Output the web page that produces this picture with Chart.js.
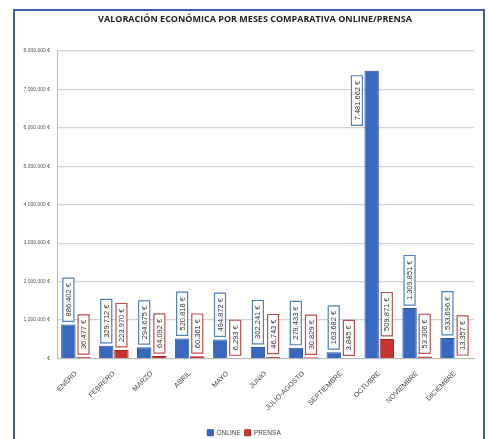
<!DOCTYPE html>
<html>
<head>
<meta charset="utf-8">
<script src="https://cdn.jsdelivr.net/npm/chart.js@4.4.1/dist/chart.umd.min.js"></script>
<style>
html,body{margin:0;padding:0;background:#fff;}
#wrap{position:relative;width:488px;height:439px;overflow:hidden;}
#frame{position:absolute;left:13px;top:9px;right:3px;bottom:-10px;border:2px solid #3b5ea6;pointer-events:none;}
canvas{position:absolute;left:0;top:0;}
</style>
</head>
<body>
<div id="wrap"><canvas id="c" width="488" height="439"></canvas><div id="frame"></div></div>
<script>
const categories = ["ENERO","FEBRERO","MARZO","ABRIL","MAYO","JUNIO","JULIO-AGOSTO","SEPTIEMBRE","OCTUBRE","NOVIEMBRE","DICIEMBRE"];
const online = [886402, 329712, 294675, 520818, 494872, 302241, 279433, 163682, 7481662, 1309851, 533696];
const prensa = [36477, 223970, 64092, 60361, 6293, 46743, 30829, 3845, 509871, 53306, 13357];
const yTicks = [0,1000000,2000000,3000000,4000000,5000000,6000000,7000000,8000000];
const seriesNames = ["ONLINE","PRENSA"];

function fmt(v){
  return v.toString().replace(/\B(?=(\d{3})+(?!\d))/g, ".") + " €";
}

const titleShift = {
  id: 'titleShift',
  afterLayout(chart){
    if (chart.titleBlock) { chart.titleBlock.left += 22; }
  }
};

const labelPlugin = {
  id: 'boxLabels',
  afterDatasetsDraw(chart){
    const ctx = chart.ctx;
    const area = chart.chartArea;
    ctx.save();
    ctx.font = '7.5px "Liberation Sans", Arial, sans-serif';
    chart.data.datasets.forEach((ds, di) => {
      const meta = chart.getDatasetMeta(di);
      const border = di === 0 ? '#4f81bd' : '#c0504d';
      meta.data.forEach((bar, i) => {
        const txt = fmt(ds.data[i]);
        const tw = ctx.measureText(txt).width;
        const h = tw + 10;
        const w = 11;
        let cx = bar.x;
        let yb = bar.y - 3;
        let yt = yb - h;
        if (yt < area.top) {
          cx = bar.x - bar.width/2 - w/2 - 2;
          yt = bar.y + 5;
          yb = yt + h;
        }
        ctx.fillStyle = '#ffffff';
        ctx.strokeStyle = border;
        ctx.lineWidth = 1.2;
        ctx.beginPath();
        ctx.rect(cx - w/2, yt, w, h);
        ctx.fill();
        ctx.stroke();
        ctx.save();
        ctx.translate(cx, yb - h/2);
        ctx.rotate(-Math.PI/2);
        ctx.fillStyle = '#333';
        ctx.textAlign = 'center';
        ctx.textBaseline = 'middle';
        ctx.fillText(txt, 0, 0.5);
        ctx.restore();
      });
    });
    ctx.restore();
  }
};

new Chart(document.getElementById('c'), {
  type: 'bar',
  data: {
    labels: categories,
    datasets: [
      {label: seriesNames[0], data: online, backgroundColor: '#3868c0', borderColor:'#2a55a3', borderWidth:1},
      {label: seriesNames[1], data: prensa, backgroundColor: '#c83530', borderColor:'#a82a26', borderWidth:1}
    ]
  },
  options: {
    responsive: false,
    animation: false,
    devicePixelRatio: 1,
    layout: {padding: {top: 4, left: 14, right: 14, bottom: -7}},
    datasets: {bar: {barPercentage: 0.95, categoryPercentage: 0.8}},
    plugins: {
      title: {
        display: true,
        text: 'VALORACIÓN ECONÓMICA POR MESES COMPARATIVA ONLINE/PRENSA',
        color: '#222',
        font: {family: '"Open Sans", sans-serif', size: 9, weight: 'bold'},
        padding: {top: 10, bottom: 26}
      },
      legend: {
        position: 'bottom',
        labels: {
          boxWidth: 6, boxHeight: 6, padding: 4,
          color: '#444',
          font: {family: '"Liberation Sans", sans-serif', size: 6.5}
        }
      },
      tooltip: {enabled: false}
    },
    scales: {
      x: {
        afterFit(scale){ scale.height = 67; },
        grid: {display: false},
        border: {color: '#bbb'},
        ticks: {
          minRotation: 45, maxRotation: 45, autoSkip: false,
          color: '#444',
          font: {family: '"Liberation Sans", sans-serif', size: 7}
        }
      },
      y: {
        min: 0, max: 8000000,
        afterBuildTicks(scale){ scale.ticks = yTicks.map(v => ({value: v})); },
        afterFit(scale){ scale.width = 43; },
        grid: {color: '#d4d4d4', lineWidth: 1.2, drawTicks: false},
        border: {color: '#bbb'},
        ticks: {
          padding: 7,
          color: '#555',
          font: {family: '"Liberation Sans", sans-serif', size: 5},
          callback: v => v === 0 ? '-  €' : fmt(v)
        }
      }
    }
  },
  plugins: [labelPlugin, titleShift]
});
</script>
</body>
</html>
